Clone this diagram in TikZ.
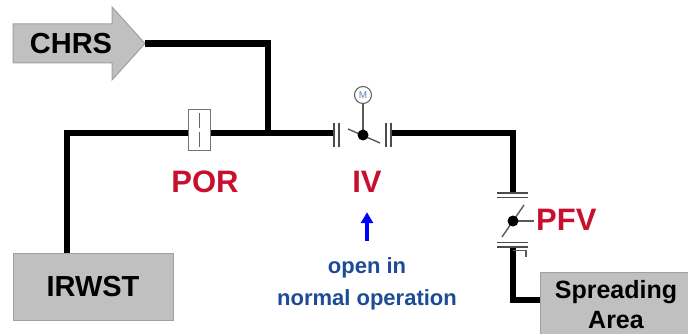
\documentclass[tikz,border=0pt]{standalone}
\usepackage{fontspec}
\setmainfont{Liberation Sans}
\usetikzlibrary{arrows.meta}
\definecolor{boxgray}{RGB}{192,192,192}
\definecolor{boxedge}{RGB}{160,160,160}
\definecolor{lblred}{RGB}{200,16,46}
\definecolor{txtblue}{RGB}{30,75,150}
\definecolor{valvegray}{RGB}{90,90,90}
\begin{document}
\begin{tikzpicture}[x=1pt,y=-1pt,
  pipe/.style={line width=6.5pt, line join=miter},
  flange/.style={line width=1.6pt, draw=black!70},
  thinpart/.style={line width=1.4pt, draw=valvegray},
  tank/.style={fill=boxgray, draw=boxedge, line width=1pt, inner sep=0pt},
  tanktext/.style={font=\fontsize{29}{29}\selectfont\bfseries},
  lbl/.style={font=\fontsize{31}{31}\selectfont\bfseries, text=lblred, inner sep=0pt},
  note/.style={font=\fontsize{22}{22}\selectfont\bfseries, text=txtblue, inner sep=0pt}]
\useasboundingbox (0,0) rectangle (688,334);

% CHRS arrow
\fill[boxgray, draw=boxedge, line width=1pt]
  (13,24) -- (112,24) -- (112,7) -- (145,43.5) -- (112,80) -- (112,63) -- (13,63) -- cycle;
\node[tanktext, inner sep=0pt] (chrs) at (71,43.5) {CHRS};
\coordinate (chrstip) at (145,43.5);

% tanks
\node[tank, minimum width=160pt, minimum height=67pt, tanktext] (irwst) at (93,286.5) {IRWST};
\node[tank, minimum width=152pt, minimum height=66pt, align=center,
      font=\fontsize{25}{30}\selectfont\bfseries] (spread) at (616,305) {Spreading\\Area};

% coordinates
\coordinate (tee) at (268,133);
\coordinate (ivl) at (334,133);
\coordinate (ivr) at (391,133);
\coordinate (pfvt) at (513,193);
\coordinate (pfvb) at (513,247);

% pipes
\draw[pipe] (chrstip) -- (tee |- chrstip) -- (tee);
\draw[pipe] (irwst.north -| 67,0) -- (67,133) -- (ivl);
\draw[pipe] (ivr) -- (513,133) -- (pfvt);
\draw[pipe] (pfvb) -- (513,300) -- (spread.west |- 0,300);

% POR
\node[draw=black!55, fill=white, line width=1pt, minimum width=22pt, minimum height=41pt, inner sep=0pt] (por) at (199,130.5) {};
\draw[line width=1pt, black!60] (199,113) -- (199,128) (199,132) -- (199,147);
\node[lbl, anchor=base] (porl) at (205,192) {POR};

% IV
\draw[flange] (334,123) -- (334,147) (339,123) -- (339,147);
\draw[flange] (386,123) -- (386,147) (391,123) -- (391,147);
\draw[thinpart] (348,129) -- (380,143);
\coordinate (ivc) at (363,135);
\draw[thinpart, line width=1.2pt] (ivc) -- (363,103);
\fill[black] (ivc) circle (5.5pt);
\node[circle, draw=valvegray, fill=white, line width=1pt, minimum size=17pt, inner sep=0pt,
      font=\fontsize{10}{10}\selectfont, text=txtblue!70] (motor) at (363,95) {M};
\node[lbl, anchor=base] (ivlbl) at (367,192) {IV};

% PFV
\draw[flange] (497,193) -- (528,193) (497,197.5) -- (528,197.5);
\draw[flange] (497,242.5) -- (528,242.5) (497,247) -- (528,247);
\draw[thinpart] (502,237) -- (524,205);
\coordinate (pfvc) at (513,221);
\draw[thinpart, line width=1.2pt] (pfvc) -- (534,221);
\fill[black] (pfvc) circle (5.5pt);
\draw[line width=1.2pt, valvegray] (513,250.5) -- (526,250.5) -- (526,257);
\node[lbl, anchor=base west] (pfvl) at (536,230) {PFV};

% note
\node[note, anchor=base] (open) at (367,273) {open in};
\node[note, anchor=base] (normal) at (367,305) {normal operation};
\draw[-{Triangle[length=11pt,width=12pt]}, line width=3.6pt, blue]
  ([yshift=16pt]open.north) -- ([yshift=-20pt]ivlbl.south);
\end{tikzpicture}
\end{document}
